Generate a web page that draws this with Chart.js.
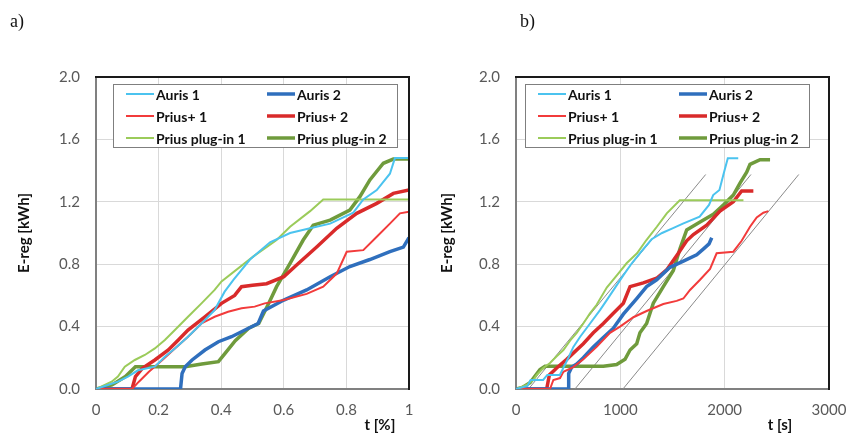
<!DOCTYPE html>
<html lang="en">
<head>
<meta charset="utf-8" />
<title>E-reg vs t</title>
<script src="https://cdn.jsdelivr.net/npm/chart.js"></script>
<style>
  body { margin: 0; background: #fff; }
  #wrap { position: relative; width: 860px; height: 434px; }
  .panel { position: absolute; top: 0; width: 430px; height: 434px; }
  .panel canvas { display: block; }
  .tag { position: absolute; top: 12px; font: 18px "Liberation Serif", serif; line-height: 1; color: #111; }
</style>
</head>
<body>
<div id="wrap">
  <div class="panel" style="left:0"><canvas id="chartA" width="430" height="434"></canvas></div>
  <div class="panel" style="left:430px"><canvas id="chartB" width="430" height="434"></canvas></div>
  <div class="tag" style="left:10px">a)</div>
  <div class="tag" style="left:520px">b)</div>
</div>
<script>
// legend order is column by column: Auris 1, Prius+ 1, Prius plug-in 1, then the "2" runs
const seriesNames = ["Auris 1", "Prius+ 1", "Prius plug-in 1", "Auris 2", "Prius+ 2", "Prius plug-in 2"];
const seriesColors = ["#4bc3ef", "#f23b3b", "#9bcb5a", "#2f6fbd", "#d92a2a", "#6f9b3c"];

// a) t [%] vs E-reg [kWh]
const pctAuris1T = [0, 0.038, 0.07, 0.102, 0.134, 0.188, 0.22, 0.252, 0.294, 0.337, 0.379, 0.411, 0.439, 0.492, 0.556, 0.62, 0.684, 0.748, 0.822, 0.854, 0.897, 0.939, 0.955, 1.0];
const pctAuris1E = [0, 0.026, 0.047, 0.08, 0.12, 0.143, 0.207, 0.26, 0.335, 0.42, 0.506, 0.624, 0.70, 0.83, 0.94, 1.0, 1.03, 1.06, 1.13, 1.215, 1.275, 1.38, 1.48, 1.48];
const pctAuris2T = [0, 0.27, 0.275, 0.285, 0.307, 0.348, 0.391, 0.433, 0.476, 0.518, 0.535, 0.6, 0.673, 0.748, 0.811, 0.875, 0.939, 0.982, 1.0];
const pctAuris2E = [0, 0, 0.1, 0.143, 0.186, 0.25, 0.303, 0.335, 0.378, 0.42, 0.5, 0.57, 0.635, 0.72, 0.785, 0.83, 0.88, 0.91, 0.97];
const pctPriusP1T = [0, 0.115, 0.137, 0.169, 0.212, 0.252, 0.294, 0.337, 0.379, 0.422, 0.465, 0.507, 0.539, 0.6, 0.673, 0.726, 0.769, 0.801, 0.854, 0.897, 0.939, 0.971, 1.0];
const pctPriusP1E = [0, 0, 0.047, 0.11, 0.186, 0.26, 0.335, 0.42, 0.463, 0.495, 0.517, 0.528, 0.549, 0.57, 0.61, 0.656, 0.74, 0.88, 0.89, 0.976, 1.06, 1.126, 1.137];
const pctPriusP2T = [0, 0.115, 0.126, 0.148, 0.188, 0.231, 0.263, 0.294, 0.348, 0.401, 0.443, 0.465, 0.5, 0.545, 0.6, 0.641, 0.705, 0.769, 0.833, 0.897, 0.95, 1.0];
const pctPriusP2E = [0, 0, 0.08, 0.132, 0.186, 0.25, 0.314, 0.378, 0.463, 0.549, 0.6, 0.656, 0.665, 0.675, 0.72, 0.795, 0.91, 1.03, 1.126, 1.19, 1.254, 1.276];
const pctPlugin1T = [0, 0.028, 0.05, 0.07, 0.092, 0.124, 0.156, 0.188, 0.22, 0.252, 0.294, 0.337, 0.379, 0.401, 0.503, 0.577, 0.62, 0.684, 0.726, 1.0];
const pctPlugin1E = [0, 0.026, 0.047, 0.08, 0.143, 0.186, 0.218, 0.26, 0.314, 0.378, 0.463, 0.549, 0.635, 0.69, 0.85, 0.955, 1.04, 1.14, 1.215, 1.215];
const pctPlugin2T = [0, 0.051, 0.094, 0.126, 0.285, 0.338, 0.391, 0.413, 0.445, 0.488, 0.52, 0.552, 0.577, 0.62, 0.662, 0.694, 0.748, 0.811, 0.843, 0.875, 0.918, 0.95, 1.0];
const pctPlugin2E = [0, 0.026, 0.08, 0.143, 0.143, 0.16, 0.175, 0.23, 0.31, 0.39, 0.42, 0.55, 0.656, 0.805, 0.955, 1.05, 1.083, 1.147, 1.233, 1.34, 1.447, 1.474, 1.474];

// b) t [s] vs E-reg [kWh]
const secAuris1T = [0, 110, 140, 260, 300, 420, 500, 550, 615, 710, 805, 870, 1030, 1110, 1200, 1300, 1400, 1500, 1600, 1760, 1850, 1890, 1950, 1990, 2030, 2130];
const secAuris1E = [0, 0.02, 0.058, 0.058, 0.09, 0.09, 0.197, 0.27, 0.335, 0.42, 0.506, 0.57, 0.73, 0.806, 0.88, 0.96, 1.0, 1.03, 1.06, 1.105, 1.18, 1.243, 1.276, 1.38, 1.479, 1.479];
const secAuris2T = [0, 501, 505, 533, 582, 645, 741, 837, 933, 1029, 1157, 1252, 1348, 1476, 1604, 1732, 1800, 1850, 1876];
const secAuris2E = [0, 0, 0.1, 0.14, 0.16, 0.2, 0.27, 0.33, 0.39, 0.48, 0.58, 0.656, 0.70, 0.78, 0.82, 0.86, 0.9, 0.93, 0.97];
const secPriusP1T = [0, 326, 358, 422, 454, 549, 645, 773, 901, 997, 1125, 1252, 1412, 1540, 1604, 1668, 1764, 1860, 1923, 2083, 2163, 2243, 2307, 2371, 2419];
const secPriusP1E = [0, 0, 0.058, 0.07, 0.11, 0.14, 0.19, 0.27, 0.36, 0.4, 0.46, 0.5, 0.545, 0.565, 0.58, 0.635, 0.70, 0.77, 0.87, 0.88, 0.95, 1.04, 1.1, 1.13, 1.14];
const secPriusP2T = [0, 294, 320, 390, 486, 549, 645, 741, 837, 933, 1029, 1093, 1220, 1348, 1444, 1556, 1636, 1700, 1828, 1955, 2083, 2163, 2275];
const secPriusP2E = [0, 0, 0.09, 0.135, 0.19, 0.23, 0.29, 0.36, 0.42, 0.485, 0.55, 0.656, 0.68, 0.71, 0.763, 0.87, 0.95, 0.99, 1.05, 1.14, 1.2, 1.27, 1.27];
const secPlugin1T = [0, 40, 100, 166, 198, 262, 326, 390, 454, 518, 582, 645, 709, 773, 870, 980, 1060, 1160, 1250, 1350, 1445, 1570, 2180];
const secPlugin1E = [0, 0.01, 0.026, 0.058, 0.09, 0.135, 0.167, 0.21, 0.25, 0.31, 0.36, 0.42, 0.485, 0.54, 0.65, 0.74, 0.806, 0.87, 0.955, 1.04, 1.126, 1.21, 1.21];
const secPlugin2T = [0, 60, 134, 230, 278, 837, 965, 1045, 1093, 1157, 1188, 1252, 1316, 1412, 1508, 1572, 1636, 1764, 1891, 1987, 2083, 2147, 2211, 2243, 2339, 2435];
const secPlugin2E = [0, 0.01, 0.04, 0.125, 0.146, 0.146, 0.157, 0.19, 0.25, 0.29, 0.36, 0.42, 0.55, 0.656, 0.76, 0.9, 1.02, 1.07, 1.12, 1.18, 1.243, 1.32, 1.39, 1.44, 1.47, 1.47];

// thin grey guide lines in b)
const refLinesT = [[120, 1818], [565, 2252], [1025, 2710]];
const refLinesE = [0, 1.375];

Chart.defaults.font.family = "Lato, 'Open Sans', sans-serif";

function series(i, xs, ys) {
  const thick = i >= 3;
  return {
    label: seriesNames[i],
    data: xs.map((x, k) => ({ x: x, y: ys[k] })),
    borderColor: seriesColors[i],
    borderWidth: thick ? 3.5 : 2,
    pointRadius: 0,
    tension: 0,
    fill: false,
  };
}

function guide(xs) {
  return {
    label: "guide",
    inLegend: false,
    data: xs.map((x, k) => ({ x: x, y: refLinesE[k] })),
    borderColor: "#8a8a8a",
    borderWidth: 1,
    pointRadius: 0,
    fill: false,
  };
}

// black frame on top/right of the plot (left/bottom come from the axis borders)
const frame = {
  id: "frame",
  afterDraw(chart) {
    const { ctx, chartArea: a } = chart;
    ctx.save();
    ctx.strokeStyle = "#1a1a1a";
    ctx.lineWidth = 2;
    ctx.beginPath();
    ctx.moveTo(a.left - 1, a.top);
    ctx.lineTo(a.right, a.top);
    ctx.lineTo(a.right, a.bottom + 1);
    ctx.stroke();
    ctx.restore();
  },
};

// boxed two-column legend inside the plot
const boxLegend = {
  id: "boxLegend",
  afterDraw(chart, args, opts) {
    const { ctx, chartArea: a } = chart;
    const x0 = a.left + opts.offsetX;
    const y0 = a.top + 7;
    ctx.save();
    ctx.fillStyle = "#fff";
    ctx.fillRect(x0, y0, 284, 63);
    ctx.strokeStyle = "#7f7f7f";
    ctx.lineWidth = 1;
    ctx.strokeRect(x0 + 0.5, y0 + 0.5, 284, 63);
    ctx.font = "bold 14px Lato, 'Open Sans', sans-serif";
    ctx.textBaseline = "middle";
    ctx.fillStyle = "#111";
    const items = chart.data.datasets.filter((d) => d.inLegend !== false);
    items.forEach((ds, i) => {
      const col = Math.floor(i / 3);
      const row = i % 3;
      const lx = x0 + (col ? 154 : 13);
      const ly = y0 + 10 + row * 22;
      ctx.strokeStyle = ds.borderColor;
      ctx.lineWidth = ds.borderWidth;
      ctx.beginPath();
      ctx.moveTo(lx, ly);
      ctx.lineTo(lx + 28, ly);
      ctx.stroke();
      ctx.fillText(ds.label, lx + 30, ly + 1);
    });
    ctx.restore();
  },
};

// x axis title sits on the tick row, right of centre
const xTitle = {
  id: "xTitle",
  afterDraw(chart, args, opts) {
    const { ctx } = chart;
    ctx.save();
    ctx.font = "bold 15px Lato, 'Open Sans', sans-serif";
    ctx.fillStyle = "#111";
    ctx.textAlign = "center";
    ctx.textBaseline = "middle";
    ctx.fillText(opts.text, chart.scales.x.getPixelForValue(opts.at), 425);
    ctx.restore();
  },
};

function makeChart(id, cfg) {
  const gridColor = "#d9d9d9";
  return new Chart(document.getElementById(id), {
    type: "line",
    data: { datasets: cfg.datasets },
    options: {
      responsive: false,
      animation: false,
      layout: { padding: { top: 77, right: cfg.padRight, bottom: 0, left: 0 } },
      plugins: {
        legend: { display: false },
        tooltip: { enabled: false },
        boxLegend: { offsetX: cfg.legendX },
        xTitle: { text: cfg.xTitle, at: cfg.xTitleAt },
      },
      scales: {
        x: {
          type: "linear",
          min: 0,
          max: cfg.xMax,
          ticks: {
            stepSize: cfg.xStep,
            padding: 12,
            color: "#595959",
            font: { size: 15 },
            callback: (v) => String(Math.round(v * 10) / 10),
          },
          grid: { color: gridColor, drawTicks: false },
          border: { color: "#808080", width: 2 },
          afterFit: (s) => { s.height = 45; },
        },
        y: {
          min: 0,
          max: 2,
          ticks: {
            stepSize: 0.4,
            padding: 16,
            color: "#595959",
            font: { size: 15 },
            callback: (v) => v.toFixed(1),
          },
          grid: { color: gridColor, drawTicks: false },
          border: { color: "#808080", width: 2 },
          title: {
            display: true,
            text: "E-reg [kWh]",
            color: "#111",
            font: { size: 15, weight: "bold" },
            padding: { top: cfg.yTitlePad, bottom: 0 },
          },
          afterFit: (s) => { s.width = cfg.yWidth; },
        },
      },
    },
    plugins: [frame, boxLegend, xTitle],
  });
}

makeChart("chartA", {
  datasets: [
    series(0, pctAuris1T, pctAuris1E),
    series(1, pctPriusP1T, pctPriusP1E),
    series(2, pctPlugin1T, pctPlugin1E),
    series(3, pctAuris2T, pctAuris2E),
    series(4, pctPriusP2T, pctPriusP2E),
    series(5, pctPlugin2T, pctPlugin2E),
  ],
  xMax: 1,
  xStep: 0.2,
  xTitle: "t [%]",
  xTitleAt: 0.907,
  yWidth: 96,
  padRight: 21,
  yTitlePad: 15,
  legendX: 17,
});

makeChart("chartB", {
  datasets: [
    series(0, secAuris1T, secAuris1E),
    series(1, secPriusP1T, secPriusP1E),
    series(2, secPlugin1T, secPlugin1E),
    series(3, secAuris2T, secAuris2E),
    series(4, secPriusP2T, secPriusP2E),
    series(5, secPlugin2T, secPlugin2E),
    guide(refLinesT[0]),
    guide(refLinesT[1]),
    guide(refLinesT[2]),
  ],
  xMax: 3000,
  xStep: 1000,
  xTitle: "t [s]",
  xTitleAt: 2530,
  yWidth: 86,
  padRight: 31,
  yTitlePad: 8,
  legendX: 9,
});
</script>
</body>
</html>
